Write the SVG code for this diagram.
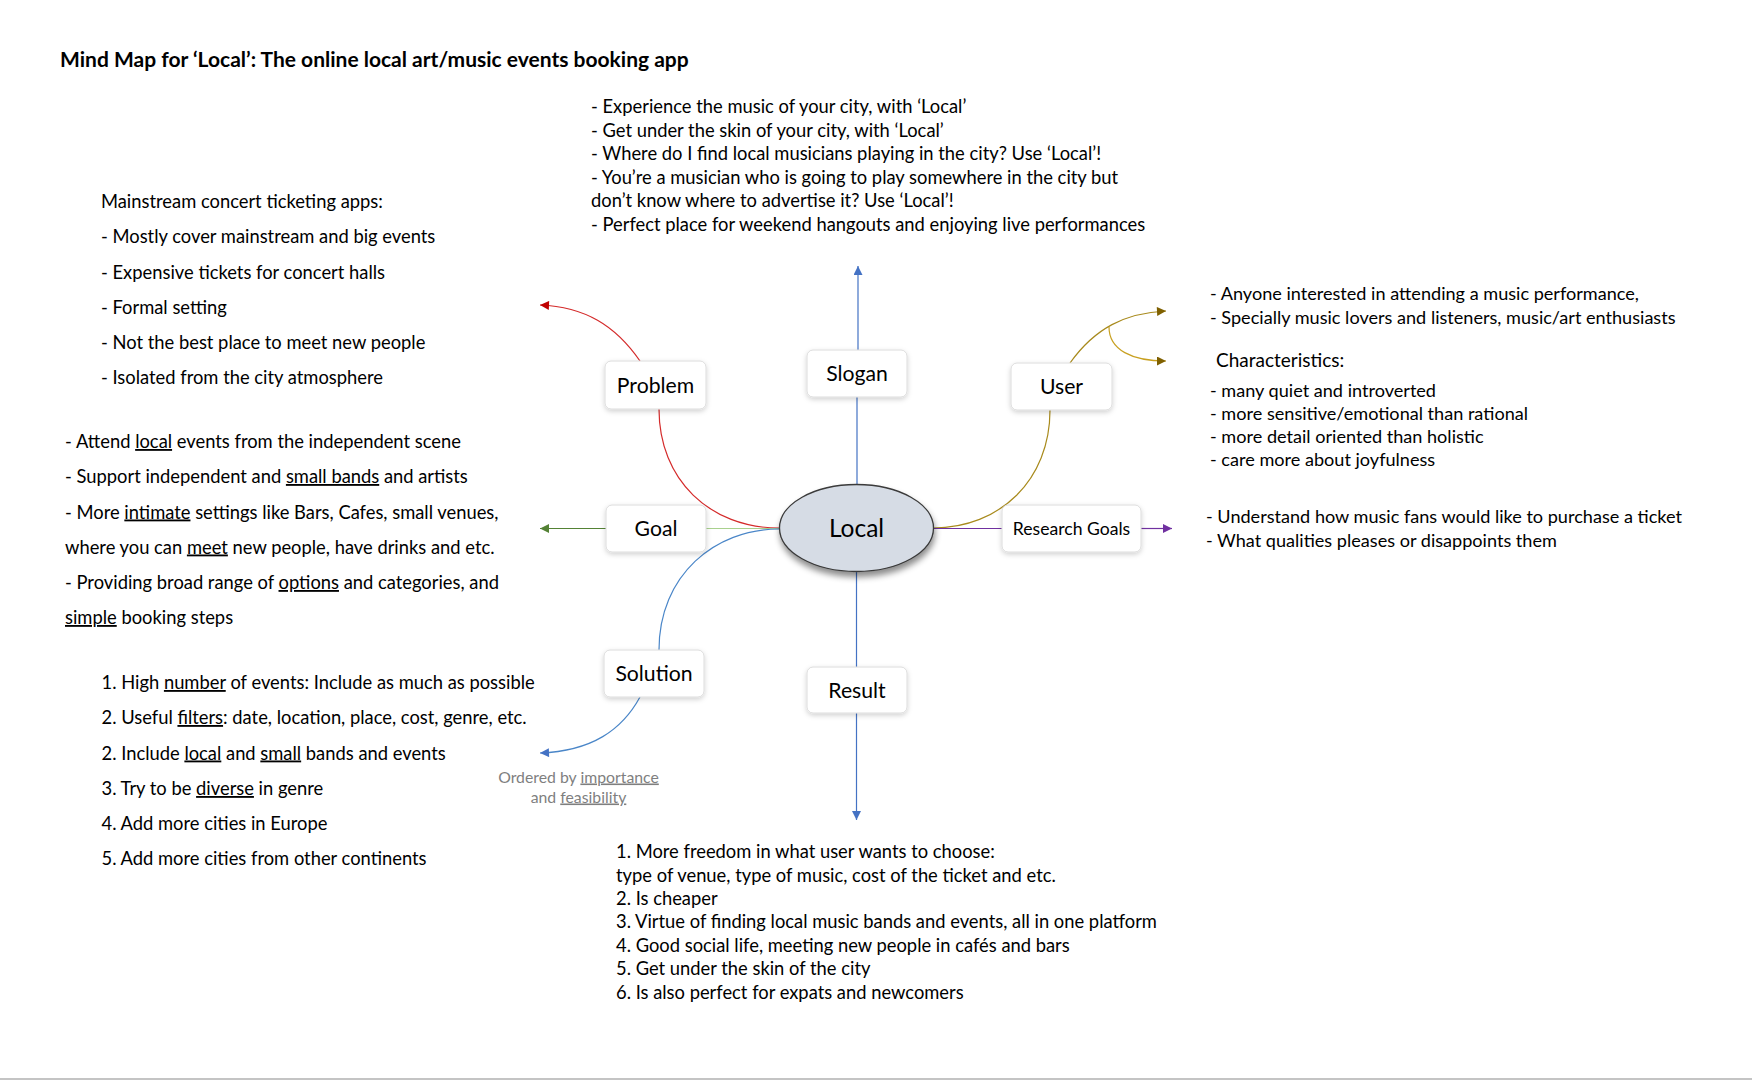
<svg xmlns="http://www.w3.org/2000/svg" width="1752" height="1080" viewBox="0 0 1752 1080">
<style>
.t{font-family:Lato,"Open Sans","Liberation Sans",sans-serif;font-size:18.35px;fill:#000}
.tr{font-family:Lato,"Open Sans","Liberation Sans",sans-serif;font-size:18.1px;fill:#000}
.title{font-family:Lato,"Open Sans","Liberation Sans",sans-serif;font-size:21px;font-weight:bold;fill:#000}
.lbl{font-family:Lato,"Open Sans","Liberation Sans",sans-serif;font-size:21.2px;fill:#000;text-anchor:middle}
.lbls{font-family:Lato,"Open Sans","Liberation Sans",sans-serif;font-size:17.6px;fill:#000;text-anchor:middle}
.gray{font-family:Lato,"Open Sans","Liberation Sans",sans-serif;font-size:15.8px;fill:#7f7f7f;text-anchor:middle}
.u{text-decoration:underline}
.box{fill:#fff;stroke:#dcdcdc;stroke-width:1;filter:url(#sh)}
.c{fill:none;stroke-width:1.2}
</style>
<defs>
<filter id="sh" x="-20%" y="-20%" width="140%" height="150%">
<feDropShadow dx="0" dy="2" stdDeviation="2.5" flood-color="#000" flood-opacity="0.18"/>
</filter>
<filter id="esh" x="-20%" y="-20%" width="140%" height="160%">
<feDropShadow dx="1" dy="5" stdDeviation="3" flood-color="#000" flood-opacity="0.45"/>
</filter>
<marker id="mb" viewBox="0 0 10 10" refX="10" refY="5" markerWidth="10" markerHeight="9" markerUnits="userSpaceOnUse" orient="auto"><path d="M0,0 L10,5 L0,10 z" fill="#4472c4"/></marker>
<marker id="mr" viewBox="0 0 10 10" refX="10" refY="5" markerWidth="10" markerHeight="9" markerUnits="userSpaceOnUse" orient="auto"><path d="M0,0 L10,5 L0,10 z" fill="#c00000"/></marker>
<marker id="mg" viewBox="0 0 10 10" refX="10" refY="5" markerWidth="10" markerHeight="9" markerUnits="userSpaceOnUse" orient="auto"><path d="M0,0 L10,5 L0,10 z" fill="#548235"/></marker>
<marker id="mo" viewBox="0 0 10 10" refX="10" refY="5" markerWidth="10" markerHeight="9" markerUnits="userSpaceOnUse" orient="auto"><path d="M0,0 L10,5 L0,10 z" fill="#7f6000"/></marker>
<marker id="mp" viewBox="0 0 10 10" refX="10" refY="5" markerWidth="10" markerHeight="9" markerUnits="userSpaceOnUse" orient="auto"><path d="M0,0 L10,5 L0,10 z" fill="#7030a0"/></marker>
</defs>
<rect width="1752" height="1080" fill="#fff"/>
<rect x="0" y="1078" width="1752" height="2" fill="#c4c4c4"/>

<text class="title" x="60" y="66.5">Mind Map for ‘Local’: The online local art/music events booking app</text>

<g id="connectors">
<!-- Slogan -->
<path class="c" stroke="#4472c4" d="M858,350 L858,266" marker-end="url(#mb)"/>
<path class="c" stroke="#4472c4" d="M857,397 L857,485"/>
<!-- Result -->
<path class="c" stroke="#4472c4" d="M856.5,571 L856.5,667"/>
<path class="c" stroke="#4472c4" d="M856.5,713 L856.5,820" marker-end="url(#mb)"/>
<!-- Problem -->
<path class="c" stroke="#d42a2a" d="M659,409 C659,480 710,528 779,528"/>
<path class="c" stroke="#d42a2a" d="M640,361 C615,325 585,307 540,305" marker-end="url(#mr)"/>
<!-- Goal -->
<path class="c" stroke="#a9d18e" d="M706,528.5 L779,528.5"/>
<path class="c" stroke="#548235" d="M606,528.5 L540,528.5" marker-end="url(#mg)"/>
<!-- Solution -->
<path class="c" stroke="#4a86c8" d="M779,529 C715,529 659,575 659,650"/>
<path class="c" stroke="#4a86c8" d="M640,697 C622,730 592,751 540,753" marker-end="url(#mb)"/>
<!-- User -->
<path class="c" stroke="#a88a1c" d="M933,528 C1000,528 1050,480 1050,410"/>
<path class="c" stroke="#a88a1c" d="M1070,363 C1095,328 1125,313 1166,311" marker-end="url(#mo)"/>
<path class="c" stroke="#c8a020" d="M1109,327 C1109,350 1132,361 1166,361" marker-end="url(#mo)"/>
<!-- Research Goals -->
<path class="c" stroke="#7030a0" d="M934,528.5 L1002,528.5"/>
<path class="c" stroke="#7030a0" d="M1141,528.5 L1172,528.5" marker-end="url(#mp)"/>
</g>

<g id="node-local">
<ellipse cx="856.5" cy="528" rx="77" ry="43.5" fill="#d6dce5" stroke="#3a3a3a" stroke-width="1.3" filter="url(#esh)"/>
<text class="lbl" x="856.5" y="537" style="font-size:24.5px">Local</text>
</g>
<g id="node-slogan">
<rect class="box" x="807" y="350" width="100" height="47" rx="6"/>
<text class="lbl" x="857" y="381">Slogan</text>
</g>
<g id="node-problem">
<rect class="box" x="605" y="361" width="101" height="48" rx="6"/>
<text class="lbl" x="655.5" y="392.5">Problem</text>
</g>
<g id="node-user">
<rect class="box" x="1011" y="363" width="101" height="47" rx="6"/>
<text class="lbl" x="1061.5" y="394">User</text>
</g>
<g id="node-goal">
<rect class="box" x="606" y="505" width="100" height="47" rx="6"/>
<text class="lbl" x="656" y="536">Goal</text>
</g>
<g id="node-research">
<rect class="box" x="1002" y="505" width="139" height="47" rx="6"/>
<text class="lbls" x="1071.5" y="534.5">Research Goals</text>
</g>
<g id="node-solution">
<rect class="box" x="604" y="650" width="100" height="47" rx="6"/>
<text class="lbl" x="654" y="681">Solution</text>
</g>
<g id="node-result">
<rect class="box" x="807" y="667" width="100" height="46" rx="6"/>
<text class="lbl" x="857" y="697.5">Result</text>
</g>

<g id="text-slogan">
<text class="t" x="591" y="113">- Experience the music of your city, with ‘Local’</text>
<text class="t" x="591" y="136.5">- Get under the skin of your city, with ‘Local’</text>
<text class="t" x="591" y="160">- Where do I find local musicians playing in the city? Use ‘Local’!</text>
<text class="t" x="591" y="183.5">- You’re a musician who is going to play somewhere in the city but</text>
<text class="t" x="591" y="207">don’t know where to advertise it? Use ‘Local’!</text>
<text class="t" x="591" y="230.5">- Perfect place for weekend hangouts and enjoying live performances</text>
</g>

<g id="text-problem">
<text class="t" x="101" y="208">Mainstream concert ticketing apps:</text>
<text class="t" x="101" y="243">- Mostly cover mainstream and big events</text>
<text class="t" x="101" y="278.5">- Expensive tickets for concert halls</text>
<text class="t" x="101" y="313.5">- Formal setting</text>
<text class="t" x="101" y="349">- Not the best place to meet new people</text>
<text class="t" x="101" y="384">- Isolated from the city atmosphere</text>
</g>

<g id="text-goal">
<text class="t" x="65" y="448">- Attend <tspan class="u">local</tspan> events from the independent scene</text>
<text class="t" x="65" y="483">- Support independent and <tspan class="u">small bands</tspan> and artists</text>
<text class="t" x="65" y="518.5">- More <tspan class="u">intimate</tspan> settings like Bars, Cafes, small venues,</text>
<text class="t" x="65" y="553.5">where you can <tspan class="u">meet</tspan> new people, have drinks and etc.</text>
<text class="t" x="65" y="589">- Providing broad range of <tspan class="u">options</tspan> and categories, and</text>
<text class="t" x="65" y="624"><tspan class="u">simple</tspan> booking steps</text>
</g>

<g id="text-solution">
<text class="t" x="101.5" y="689">1. High <tspan class="u">number</tspan> of events: Include as much as possible</text>
<text class="t" x="101.5" y="724">2. Useful <tspan class="u">filters</tspan>: date, location, place, cost, genre, etc.</text>
<text class="t" x="101.5" y="759.5">2. Include <tspan class="u">local</tspan> and <tspan class="u">small</tspan> bands and events</text>
<text class="t" x="101.5" y="795">3. Try to be <tspan class="u">diverse</tspan> in genre</text>
<text class="t" x="101.5" y="830">4. Add more cities in Europe</text>
<text class="t" x="101.5" y="865">5. Add more cities from other continents</text>
<text class="gray" x="578.5" y="782.5">Ordered by <tspan class="u">importance</tspan></text>
<text class="gray" x="578.5" y="802.5">and <tspan class="u">feasibility</tspan></text>
</g>

<g id="text-user">
<text class="tr" x="1210" y="300">- Anyone interested in attending a music performance,</text>
<text class="tr" x="1210" y="323.5">- Specially music lovers and listeners, music/art enthusiasts</text>
<text class="tr" x="1216" y="367" style="font-size:19px">Characteristics:</text>
<text class="tr" x="1210" y="397">- many quiet and introverted</text>
<text class="tr" x="1210" y="420">- more sensitive/emotional than rational</text>
<text class="tr" x="1210" y="443">- more detail oriented than holistic</text>
<text class="tr" x="1210" y="466">- care more about joyfulness</text>
</g>

<g id="text-research">
<text class="tr" x="1206" y="523">- Understand how music fans would like to purchase a ticket</text>
<text class="tr" x="1206" y="546.5">- What qualities pleases or disappoints them</text>
</g>

<g id="text-result">
<text class="t" x="616" y="858">1. More freedom in what user wants to choose:</text>
<text class="t" x="616" y="881.5">type of venue, type of music, cost of the ticket and etc.</text>
<text class="t" x="616" y="905">2. Is cheaper</text>
<text class="t" x="616" y="928">3. Virtue of finding local music bands and events, all in one platform</text>
<text class="t" x="616" y="951.5">4. Good social life, meeting new people in cafés and bars</text>
<text class="t" x="616" y="975">5. Get under the skin of the city</text>
<text class="t" x="616" y="998.5">6. Is also perfect for expats and newcomers</text>
</g>
</svg>
